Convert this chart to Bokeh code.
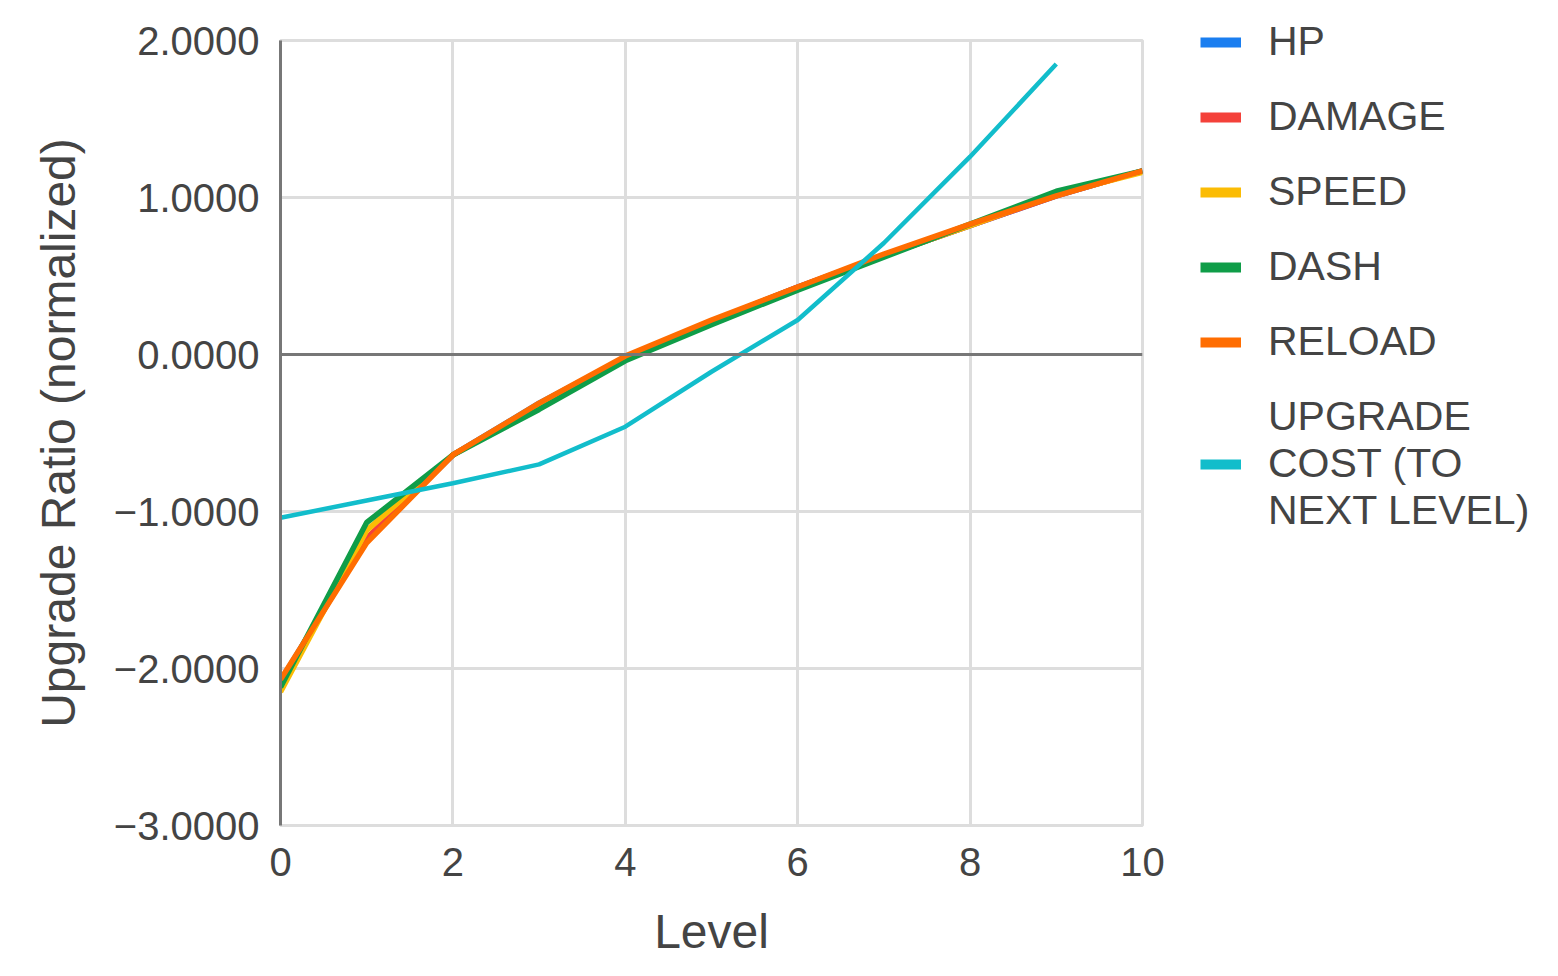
from bokeh.plotting import figure
from bokeh.models import Legend, LegendItem, CustomJSTickFormatter, FixedTicker, Span
from bokeh.embed import file_html
from bokeh.resources import INLINE

levels = list(range(11))
hp = [-2.08, -1.18, -0.64, -0.31, -0.02, 0.21, 0.43, 0.63, 0.82, 1.01, 1.17]
damage = [-2.09, -1.17, -0.64, -0.32, -0.02, 0.21, 0.43, 0.63, 0.82, 1.01, 1.17]
speed = [-2.15, -1.12, -0.64, -0.33, -0.03, 0.20, 0.42, 0.63, 0.82, 1.02, 1.16]
dash = [-2.12, -1.07, -0.64, -0.35, -0.04, 0.19, 0.41, 0.62, 0.83, 1.04, 1.17]
reload_ = [-2.07, -1.20, -0.64, -0.31, -0.01, 0.22, 0.43, 0.64, 0.83, 1.01, 1.17]
cost_levels = list(range(10))
upgrade_cost = [-1.04, -0.93, -0.82, -0.70, -0.46, -0.11, 0.22, 0.71, 1.26, 1.85]

names = ["HP", "DAMAGE", "SPEED", "DASH", "RELOAD", "UPGRADE\nCOST (TO\nNEXT LEVEL)"]
colors = ["#1A7EF0", "#F4413A", "#FBBC04", "#0F9D48", "#FF6D01", "#12BDCB"]
series = [hp, damage, speed, dash, reload_, upgrade_cost]
xs = [levels, levels, levels, levels, levels, cost_levels]
x_ticks = [0, 2, 4, 6, 8, 10]
y_ticks = [-3, -2, -1, 0, 1, 2]

FONT = "Liberation Sans"

p = figure(frame_width=862, frame_height=785, output_backend="svg", toolbar_location=None,
           x_range=(0, 10), y_range=(-3, 2),
           min_border_left=280, min_border_top=40, min_border_bottom=125, min_border_right=400)

p.xgrid.ticker = FixedTicker(ticks=x_ticks)
p.ygrid.ticker = FixedTicker(ticks=y_ticks)
p.grid.grid_line_color = "#DDDDDD"
p.grid.grid_line_width = 3
p.outline_line_color = "#DDDDDD"
p.outline_line_width = 3

p.xaxis.ticker = FixedTicker(ticks=x_ticks)
p.yaxis.ticker = FixedTicker(ticks=y_ticks)
p.yaxis.formatter = CustomJSTickFormatter(code="return (tick < 0 ? '\u2212' : '') + Math.abs(tick).toFixed(4);")
for ax in (p.xaxis[0], p.yaxis[0]):
    ax.major_tick_line_color = None
    ax.minor_tick_line_color = None
    ax.major_label_text_font = FONT
    ax.major_label_text_font_size = "40px"
    ax.major_label_text_color = "#444444"
    ax.axis_label_text_font = FONT
    ax.axis_label_text_font_size = "48px"
    ax.axis_label_text_font_style = "normal"
    ax.axis_label_text_color = "#444444"
p.xaxis.axis_line_color = None
p.yaxis.axis_line_color = "#777777"
p.yaxis.axis_line_width = 3
p.xaxis.axis_label = "Level"
p.yaxis.axis_label = "Upgrade Ratio (normalized)"
p.xaxis.major_label_standoff = 16
p.yaxis.major_label_standoff = 15
p.xaxis.axis_label_standoff = 26
p.yaxis.axis_label_standoff = 26

p.add_layout(Span(location=0, dimension="width", line_color="#777777", line_width=3))

items = []
for name, c, x, y in zip(names, colors, xs, series):
    w = 4.5 if name.startswith("UPGRADE") else 5.5
    p.line(x, y, line_color=c, line_width=w)
    dummy = p.line([float("nan")], [float("nan")], line_color=c, line_width=10)
    items.append(LegendItem(label=name, renderers=[dummy]))

legend = Legend(items=items, location=(58, 291), border_line_color=None,
                label_text_font=FONT, label_text_font_size="41px", label_text_color="#444444",
                label_text_line_height=1.0,
                glyph_width=41, glyph_height=30, spacing=28, label_standoff=27,
                padding=0, margin=0, background_fill_alpha=0)
p.add_layout(legend, "right")

open("out.html", "w").write(file_html(p, INLINE))
